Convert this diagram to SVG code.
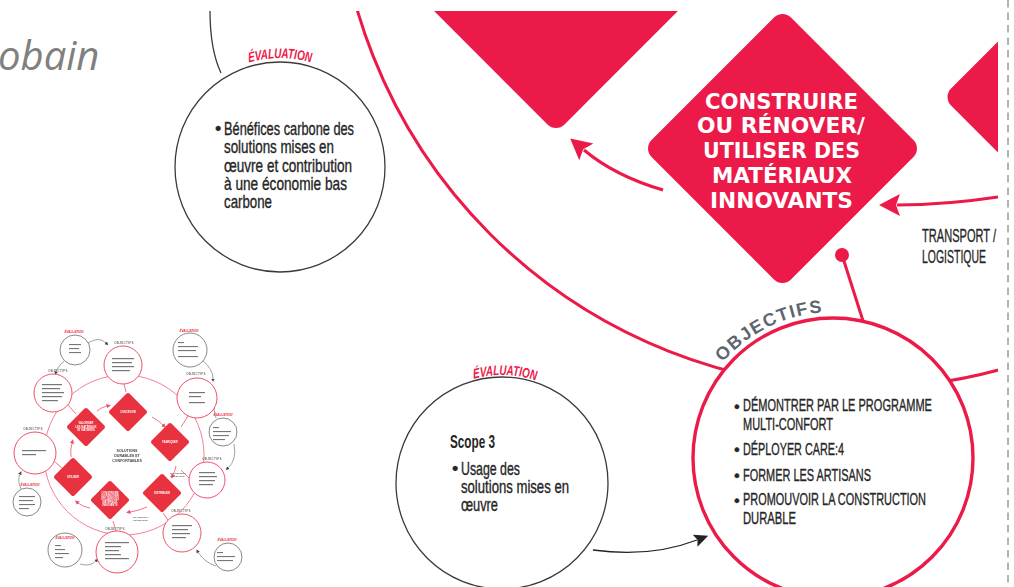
<svg xmlns="http://www.w3.org/2000/svg" width="1014" height="587" viewBox="0 0 1014 587">
  <defs>
    <style>
      .ring { fill: none; stroke: #ec1a48; stroke-width: 3; }
      .obj-ring { fill: #fff; stroke: #ec1a48; stroke-width: 3.4; }
      .eval-ring { fill: #fff; stroke: #3a3a3a; stroke-width: 1.3; }
      .flow { fill: none; stroke: #ec1a48; stroke-width: 3; }
      .diamond { fill: #ec1a48; }
      .body { font-family: "Liberation Sans", Arial, sans-serif; font-size: 18px; fill: #262626; stroke: #262626; stroke-width: 0.35; }
      .body-s { font-family: "Liberation Sans", Arial, sans-serif; font-size: 16.5px; fill: #262626; stroke: #262626; stroke-width: 0.35; }
      .body-b { font-family: "Liberation Sans", Arial, sans-serif; font-size: 18px; font-weight: bold; fill: #262626; }
      .eval-lbl { font-family: "Liberation Sans", Arial, sans-serif; font-size: 14px; font-weight: bold; font-style: italic; fill: #ec1a48; }
      .dia-txt { font-family: "DejaVu Sans", "Liberation Sans", sans-serif; font-size: 21.5px; font-weight: bold; fill: #fff; text-anchor: middle; }
      .obj-lbl { font-family: "Liberation Sans", Arial, sans-serif; font-size: 18px; font-weight: bold; fill: #5d6670; letter-spacing: 1.6px; }
      .title { font-family: "Open Sans", "Noto Sans", sans-serif; font-style: italic; font-size: 40px; fill: #808080; }
      /* miniature overview */
      .m-ring { fill: none; stroke: #f27189; stroke-width: 0.9; }
      .m-obj { fill: #fff; stroke: #ee4f6b; stroke-width: 1; }
      .m-eval { fill: #fff; stroke: #555; stroke-width: 0.7; }
      .m-dia { fill: #e8303f; }
      .m-bar { fill: #4a4a4a; opacity: 0.75; }
      .m-dtxt { font-family: "Liberation Sans", Arial, sans-serif; font-size: 2.6px; font-weight: bold; fill: #fff; text-anchor: middle; }
      .m-ctxt { font-family: "Liberation Sans", Arial, sans-serif; font-size: 3.6px; font-weight: bold; fill: #444; text-anchor: middle; }
      .m-elbl { font-family: "Liberation Sans", Arial, sans-serif; font-size: 3px; font-weight: bold; font-style: italic; fill: #e8303f; text-anchor: middle; }
      .m-olbl { font-family: "Liberation Sans", Arial, sans-serif; font-size: 3px; font-weight: bold; fill: #777; text-anchor: middle; letter-spacing: 0.3px; }
      .m-small { font-family: "Liberation Sans", Arial, sans-serif; font-size: 2.4px; fill: #333; }
      .m-flow { fill: none; stroke: #ee4f6b; stroke-width: 0.8; }
      .m-kflow { fill: none; stroke: #444; stroke-width: 0.5; }
    </style>
    <clipPath id="frame"><rect x="0" y="11" width="998" height="576"/></clipPath>
    <rect id="dia" x="-98.6" y="-98.6" width="197.2" height="197.2" rx="12" transform="rotate(45)"/>
    <rect id="mdia" x="-14" y="-14" width="28" height="28" rx="2" transform="rotate(45)"/>
    <marker id="headRed" markerUnits="userSpaceOnUse" markerWidth="24" markerHeight="24" viewBox="-2 -12 24 24" refX="3" refY="0" orient="auto">
      <path d="M0,-11 L21,0 L0,11 L4,0 Z" fill="#ec1a48"/>
    </marker>
    <marker id="headDark" markerUnits="userSpaceOnUse" markerWidth="16" markerHeight="16" viewBox="-1 -8 16 16" refX="2" refY="0" orient="auto">
      <path d="M0,-6.5 L14,0 L0,6.5 L2.5,0 Z" fill="#222"/>
    </marker>
    <marker id="mHeadRed" markerUnits="userSpaceOnUse" markerWidth="6" markerHeight="6" viewBox="0 -3 6 6" refX="0.5" refY="0" orient="auto">
      <path d="M0,-2.2 L4.5,0 L0,2.2 Z" fill="#ee4f6b"/>
    </marker>
    <marker id="mHeadDark" markerUnits="userSpaceOnUse" markerWidth="6" markerHeight="6" viewBox="0 -3 6 6" refX="0.5" refY="0" orient="auto">
      <path d="M0,-1.8 L3.6,0 L0,1.8 Z" fill="#444"/>
    </marker>
    <filter id="soft" x="-5%" y="-5%" width="110%" height="110%">
      <feGaussianBlur stdDeviation="0.35"/>
    </filter>
    <path id="arcEval1" d="M-153.5,0 A153.5,109 0 0 1 153.5,0"/>
    <path id="arcEval2" d="M-152,0 A152,108 0 0 1 152,0"/>
    <path id="arcObj" d="M687,458 A146,146 0 0 1 979,458"/>
  </defs>

  <!-- page margin rule -->
  <line x1="1008" y1="0" x2="1008" y2="587" stroke="#b3b3b3" stroke-width="2" stroke-dasharray="7.5 5"/>

  <!-- slide title fragment -->
  <text class="title" x="-2" y="70">obain</text>

  <!-- shapes, cropped to the page frame -->
  <g clip-path="url(#frame)">
    <!-- life-cycle ring -->
    <circle class="ring" cx="862" cy="-138" r="526"/>

    <!-- connectors -->
    <g id="connectors">
      <path class="flow" d="M663,190 Q615,176 584,150" marker-end="url(#headRed)"/>
      <path class="flow" d="M998,197 Q945,205 897,205" marker-end="url(#headRed)"/>
      <line x1="843" y1="258" x2="864" y2="324" stroke="#ec1a48" stroke-width="3"/>
      <circle cx="842" cy="255" r="7" fill="#ec1a48"/>
      <path d="M593,550 Q650,558 697,540" fill="none" stroke="#222" stroke-width="1.3" marker-end="url(#headDark)"/>
      <path d="M210,11 C210,38 213,56 221,73" fill="none" stroke="#3a3a3a" stroke-width="1.3"/>
    </g>

    <!-- step: utiliser (upper left, mostly off page) -->
    <g id="step-utiliser">
      <use href="#dia" class="diamond" transform="translate(556,-6.5)"/>
    </g>

    <!-- step: distribuer (right, mostly off page) -->
    <g id="step-distribuer">
      <use href="#dia" class="diamond" transform="translate(1082,97)"/>
    </g>

    <g id="step-construire-shape">
      <use href="#dia" class="diamond" transform="translate(782.5,148.5)"/>
    </g>

    <circle class="eval-ring" cx="280" cy="167" r="105"/>
    <circle class="eval-ring" cx="502" cy="483" r="106"/>
    <circle class="obj-ring" cx="833" cy="458" r="140"/>
  </g>

  <!-- step: construire -->
  <g id="step-construire">
    <text class="dia-txt" x="781.5" y="109" textLength="153" lengthAdjust="spacingAndGlyphs">CONSTRUIRE</text>
    <text class="dia-txt" x="781" y="133" textLength="168" lengthAdjust="spacingAndGlyphs">OU RÉNOVER/</text>
    <text class="dia-txt" x="781.5" y="158" textLength="157" lengthAdjust="spacingAndGlyphs">UTILISER DES</text>
    <text class="dia-txt" x="782" y="183" textLength="140" lengthAdjust="spacingAndGlyphs">MATÉRIAUX</text>
    <text class="dia-txt" x="781.5" y="208" textLength="143" lengthAdjust="spacingAndGlyphs">INNOVANTS</text>
  </g>

  <!-- transport label (condensed: drawn at 0.62 width) -->
  <g id="label-transport" transform="translate(922,0) scale(0.62,1)">
    <text class="body" x="0" y="242" textLength="119.4" lengthAdjust="spacingAndGlyphs">TRANSPORT /</text>
    <text class="body" x="0" y="263" textLength="103.2" lengthAdjust="spacingAndGlyphs">LOGISTIQUE</text>
  </g>

  <!-- evaluation: carbon benefits -->
  <g id="eval-benefices">
    <g transform="translate(280,167) scale(0.71,1)">
      <text class="eval-lbl" text-anchor="middle"><textPath href="#arcEval1" startOffset="50%">ÉVALUATION</textPath></text>
    </g>
    <text class="body" x="215" y="135">•</text>
    <g transform="translate(224,0) scale(0.71,1)">
      <text class="body" x="0" y="135" textLength="183.1" lengthAdjust="spacingAndGlyphs">Bénéfices carbone des</text>
      <text class="body" x="0" y="153" textLength="154.9" lengthAdjust="spacingAndGlyphs">solutions mises en</text>
      <text class="body" x="0" y="172" textLength="180.3" lengthAdjust="spacingAndGlyphs">œuvre et contribution</text>
      <text class="body" x="0" y="190" textLength="173.2" lengthAdjust="spacingAndGlyphs">à une économie bas</text>
      <text class="body" x="0" y="208" textLength="67.6" lengthAdjust="spacingAndGlyphs">carbone</text>
    </g>
  </g>

  <!-- evaluation: scope 3 -->
  <g id="eval-scope3">
    <g transform="translate(502,483) rotate(1.6) scale(0.71,1)">
      <text class="eval-lbl" text-anchor="middle"><textPath href="#arcEval2" startOffset="50%">ÉVALUATION</textPath></text>
    </g>
    <text class="body" x="452" y="475">•</text>
    <g transform="translate(450,0) scale(0.71,1)">
      <text class="body-b" x="0" y="448" textLength="63.4" lengthAdjust="spacingAndGlyphs">Scope 3</text>
    </g>
    <g transform="translate(461,0) scale(0.71,1)">
      <text class="body" x="0" y="475" textLength="83.1" lengthAdjust="spacingAndGlyphs">Usage des</text>
      <text class="body" x="0" y="493" textLength="152.1" lengthAdjust="spacingAndGlyphs">solutions mises en</text>
      <text class="body" x="0" y="511" textLength="52.1" lengthAdjust="spacingAndGlyphs">œuvre</text>
    </g>
  </g>

  <!-- objectives -->
  <g id="objectifs">
    <text class="obj-lbl" text-anchor="middle"><textPath href="#arcObj" startOffset="162">OBJECTIFS</textPath></text>
    <text class="body-s" x="734" y="411.5">•</text>
    <text class="body-s" x="734" y="455">•</text>
    <text class="body-s" x="734" y="481">•</text>
    <text class="body-s" x="734" y="505.5">•</text>
    <g transform="translate(743,0) scale(0.62,1)">
      <text class="body-s" x="0" y="411.5" textLength="304.8" lengthAdjust="spacingAndGlyphs">DÉMONTRER PAR LE PROGRAMME</text>
      <text class="body-s" x="0" y="430.5" textLength="145.2" lengthAdjust="spacingAndGlyphs">MULTI-CONFORT</text>
      <text class="body-s" x="0" y="455" textLength="162.9" lengthAdjust="spacingAndGlyphs">DÉPLOYER CARE:4</text>
      <text class="body-s" x="0" y="481" textLength="206.5" lengthAdjust="spacingAndGlyphs">FORMER LES ARTISANS</text>
      <text class="body-s" x="0" y="505.5" textLength="295.2" lengthAdjust="spacingAndGlyphs">PROMOUVOIR LA CONSTRUCTION</text>
      <text class="body-s" x="0" y="524.5" textLength="85.5" lengthAdjust="spacingAndGlyphs">DURABLE</text>
    </g>
  </g>

  <!-- miniature overview of the whole cycle -->
  <g id="overview" filter="url(#soft)">
    <circle class="m-ring" cx="124" cy="455" r="80"/>

    <!-- flows between steps -->
    <path class="m-flow" d="M97,411 Q102,407 107,406" marker-end="url(#mHeadRed)"/>
    <path class="m-flow" d="M152,417 Q158,420 163,425" marker-end="url(#mHeadRed)"/>
    <path class="m-flow" d="M176,466 Q175,471 173,475" marker-end="url(#mHeadRed)"/>
    <path class="m-flow" d="M147,507 Q138,511 130,512" marker-end="url(#mHeadRed)"/>
    <path class="m-flow" d="M90,508 Q83,507 78,503" marker-end="url(#mHeadRed)"/>
    <path class="m-flow" d="M71,457 Q70,450 72,443" marker-end="url(#mHeadRed)"/>
    <!-- objective links -->
    <line class="m-flow" x1="124" y1="384" x2="126" y2="392"/>
    <line class="m-flow" x1="188" y1="416" x2="181" y2="427"/>
    <line class="m-flow" x1="116" y1="531" x2="113" y2="521"/>
    <line class="m-flow" x1="168" y1="520" x2="163" y2="513"/>
    <line class="m-flow" x1="55" y1="462" x2="62" y2="468"/>
    <line class="m-flow" x1="68" y1="405" x2="76" y2="414"/>
    <line class="m-flow" x1="189" y1="478" x2="181" y2="470"/>
    <!-- evaluation links -->
    <path class="m-kflow" d="M88,343 Q99,336 106,343" marker-end="url(#mHeadDark)"/>
    <path class="m-kflow" d="M203,361 Q213,369 213,379" marker-end="url(#mHeadDark)"/>
    <path class="m-kflow" d="M216,418 Q213,408 215,403" marker-end="url(#mHeadDark)"/>
    <path class="m-kflow" d="M234,444 Q237,460 228,468" marker-end="url(#mHeadDark)"/>
    <path class="m-kflow" d="M21,489 Q17,480 20,474" marker-end="url(#mHeadDark)"/>
    <path class="m-kflow" d="M80,564 Q90,567 96,561" marker-end="url(#mHeadDark)"/>
    <path class="m-kflow" d="M216,566 Q205,563 198,552" marker-end="url(#mHeadDark)"/>
    <path class="m-kflow" d="M64,361 Q57,368 56,372" marker-end="url(#mHeadDark)"/>

    <!-- steps -->
    <g id="m-concevoir"><use href="#mdia" class="m-dia" transform="translate(128,412)"/><text class="m-dtxt" x="128" y="413">CONCEVOIR</text></g>
    <g id="m-fabriquer"><use href="#mdia" class="m-dia" transform="translate(170,442)"/><text class="m-dtxt" x="170" y="443">FABRIQUER</text></g>
    <g id="m-distribuer"><use href="#mdia" class="m-dia" transform="translate(162,493)"/><text class="m-dtxt" x="162" y="494">DISTRIBUER</text></g>
    <g id="m-construire"><use href="#mdia" class="m-dia" transform="translate(110,500)"/>
      <text class="m-dtxt" x="110" y="494">CONSTRUIRE</text><text class="m-dtxt" x="110" y="497">OU RÉNOVER/</text><text class="m-dtxt" x="110" y="500">UTILISER DES</text><text class="m-dtxt" x="110" y="503">MATÉRIAUX</text><text class="m-dtxt" x="110" y="506">INNOVANTS</text></g>
    <g id="m-utiliser"><use href="#mdia" class="m-dia" transform="translate(73,477)"/><text class="m-dtxt" x="73" y="478">UTILISER</text></g>
    <g id="m-valoriser"><use href="#mdia" class="m-dia" transform="translate(86,427)"/>
      <text class="m-dtxt" x="86" y="424">VALORISER</text><text class="m-dtxt" x="86" y="427.5">LES MATÉRIAUX</text><text class="m-dtxt" x="86" y="431">ET MATIÈRES</text></g>

    <text class="m-ctxt" x="127" y="452">SOLUTIONS</text>
    <text class="m-ctxt" x="127" y="457">DURABLES ET</text>
    <text class="m-ctxt" x="127" y="462">CONFORTABLES</text>
    <text class="m-small" x="170" y="474">TRANSPORT /</text>
    <text class="m-small" x="170" y="477">LOGISTIQUE</text>
    <text class="m-small" x="133" y="518">TRANSPORT /</text>
    <text class="m-small" x="133" y="521">LOGISTIQUE</text>

    <!-- objective circles -->
    <g id="m-obj1"><circle class="m-obj" cx="123" cy="365" r="19"/><text class="m-olbl" x="124" y="344">OBJECTIFS</text>
      <rect class="m-bar" x="112" y="358" width="22" height="1.2"/><rect class="m-bar" x="112" y="362" width="20" height="1.2"/><rect class="m-bar" x="112" y="366" width="22" height="1.2"/><rect class="m-bar" x="112" y="370" width="18" height="1.2"/></g>
    <g id="m-obj2"><circle class="m-obj" cx="53" cy="393" r="19"/><text class="m-olbl" x="58" y="372">OBJECTIFS</text>
      <rect class="m-bar" x="42" y="384" width="20" height="1.2"/><rect class="m-bar" x="42" y="388" width="18" height="1.2"/><rect class="m-bar" x="42" y="392" width="22" height="1.2"/><rect class="m-bar" x="42" y="396" width="20" height="1.2"/><rect class="m-bar" x="42" y="400" width="16" height="1.2"/></g>
    <g id="m-obj3"><circle class="m-obj" cx="35" cy="453" r="21"/><text class="m-olbl" x="33" y="430">OBJECTIFS</text>
      <rect class="m-bar" x="22" y="450" width="24" height="1.2"/><rect class="m-bar" x="22" y="454" width="14" height="1.2"/></g>
    <g id="m-obj4"><circle class="m-obj" cx="117" cy="552" r="21"/><text class="m-olbl" x="115" y="530">OBJECTIFS</text>
      <rect class="m-bar" x="105" y="542" width="24" height="1.2"/><rect class="m-bar" x="105" y="546" width="16" height="1.2"/><rect class="m-bar" x="105" y="550" width="14" height="1.2"/><rect class="m-bar" x="105" y="554" width="16" height="1.2"/><rect class="m-bar" x="105" y="558" width="24" height="1.2"/></g>
    <g id="m-obj5"><circle class="m-obj" cx="182" cy="533" r="19"/><text class="m-olbl" x="181" y="512">OBJECTIFS</text>
      <rect class="m-bar" x="172" y="525" width="20" height="1.2"/><rect class="m-bar" x="172" y="529" width="16" height="1.2"/><rect class="m-bar" x="172" y="533" width="18" height="1.2"/><rect class="m-bar" x="172" y="537" width="14" height="1.2"/></g>
    <g id="m-obj6"><circle class="m-obj" cx="207" cy="480" r="18"/><text class="m-olbl" x="212" y="460">OBJECTIFS</text>
      <rect class="m-bar" x="199" y="472" width="16" height="1.2"/><rect class="m-bar" x="199" y="476" width="18" height="1.2"/><rect class="m-bar" x="199" y="480" width="16" height="1.2"/><rect class="m-bar" x="199" y="484" width="14" height="1.2"/></g>
    <g id="m-obj7"><circle class="m-obj" cx="197" cy="398" r="20"/><text class="m-olbl" x="196" y="375">OBJECTIFS</text>
      <rect class="m-bar" x="189" y="392" width="16" height="1.2"/><rect class="m-bar" x="189" y="396" width="12" height="1.2"/><rect class="m-bar" x="189" y="402" width="16" height="1.2"/></g>

    <!-- evaluation circles -->
    <g id="m-eval-a"><circle class="m-eval" cx="75" cy="350" r="15"/><text class="m-elbl" x="74" y="333">ÉVALUATION</text>
      <rect class="m-bar" x="69" y="344" width="12" height="1.1"/><rect class="m-bar" x="69" y="348" width="10" height="1.1"/><rect class="m-bar" x="69" y="352" width="12" height="1.1"/></g>
    <g id="m-eval-b"><circle class="m-eval" cx="190" cy="350" r="17"/><text class="m-elbl" x="189" y="332">ÉVALUATION</text>
      <rect class="m-bar" x="178" y="342" width="6" height="1.1"/><rect class="m-bar" x="178" y="346" width="20" height="1.1"/><rect class="m-bar" x="178" y="350" width="18" height="1.1"/><rect class="m-bar" x="178" y="356" width="20" height="1.1"/></g>
    <g id="m-eval-c"><circle class="m-eval" cx="223" cy="432" r="14"/><text class="m-elbl" x="223" y="416">ÉVALUATION</text>
      <rect class="m-bar" x="213" y="427" width="6" height="1.1"/><rect class="m-bar" x="213" y="431" width="18" height="1.1"/><rect class="m-bar" x="213" y="435" width="16" height="1.1"/><rect class="m-bar" x="213" y="439" width="12" height="1.1"/></g>
    <g id="m-eval-d"><circle class="m-eval" cx="27" cy="502" r="14"/><text class="m-elbl" x="30" y="486">ÉVALUATION</text>
      <rect class="m-bar" x="19" y="496" width="16" height="1.1"/><rect class="m-bar" x="19" y="500" width="14" height="1.1"/><rect class="m-bar" x="19" y="504" width="16" height="1.1"/><rect class="m-bar" x="19" y="508" width="10" height="1.1"/></g>
    <g id="m-eval-e"><circle class="m-eval" cx="65" cy="550" r="17"/><text class="m-elbl" x="65" y="539">ÉVALUATION</text>
      <rect class="m-bar" x="55" y="545" width="6" height="1.1"/><rect class="m-bar" x="55" y="549" width="10" height="1.1"/><rect class="m-bar" x="55" y="553" width="14" height="1.1"/><rect class="m-bar" x="55" y="557" width="8" height="1.1"/></g>
    <g id="m-eval-f"><circle class="m-eval" cx="228" cy="557" r="14"/><text class="m-elbl" x="227" y="541">ÉVALUATION</text>
      <rect class="m-bar" x="217" y="552" width="6" height="1.1"/><rect class="m-bar" x="217" y="556" width="18" height="1.1"/><rect class="m-bar" x="217" y="560" width="16" height="1.1"/></g>
  </g>
</svg>
